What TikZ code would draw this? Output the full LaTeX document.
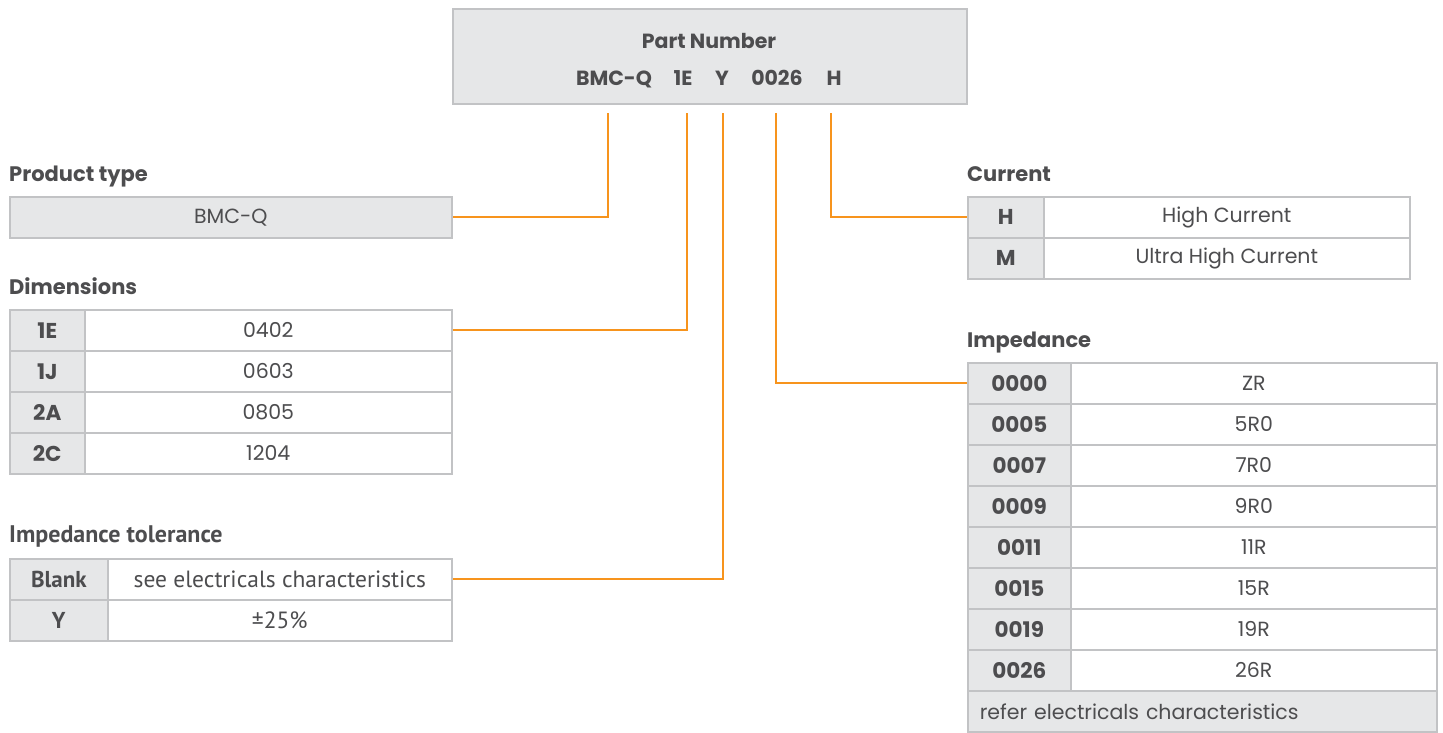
\documentclass[tikz,border=0pt]{standalone}
\usepackage{fontspec}
\setmainfont{Poppins}
\newfontfamily\narrowfont{PT Sans}
\usetikzlibrary{calc}
\definecolor{pgray}{HTML}{E6E7E8}
\definecolor{pborder}{HTML}{C2C3C5}
\definecolor{ptext}{HTML}{4D4D4F}
\definecolor{porange}{HTML}{F7941D}
\begin{document}
\begin{tikzpicture}[x=1pt,y=-1pt,
  base/.style={draw=pborder, line width=1.6pt, inner sep=0pt, anchor=north west,
    text=ptext, font=\fontsize{20.5}{24}\selectfont, minimum height=41pt},
  keycell/.style={base, fill=pgray, font=\fontsize{21.5}{25}\selectfont\bfseries},
  valcell/.style={base, fill=white},
  graycell/.style={base, fill=pgray},
  nkey/.style={keycell, font=\narrowfont\fontsize{23}{26}\selectfont\bfseries},
  nval/.style={valcell, font=\narrowfont\fontsize{23.5}{26}\selectfont},
  head/.style={anchor=base west, inner sep=0pt, text=ptext, font=\fontsize{21}{25}\selectfont\bfseries},
  nhead/.style={head, font=\narrowfont\fontsize{24}{27}\selectfont\bfseries},
  pn/.style={anchor=base, inner sep=0pt, text=ptext, font=\fontsize{20.5}{24}\selectfont\bfseries},
  conn/.style={draw=porange, line width=2pt},
]
\useasboundingbox (0,0) rectangle (1443,732);

% Part number box
\node[draw=pborder, line width=1.6pt, fill=pgray, anchor=north west, inner sep=0pt,
  minimum width=514pt, minimum height=95pt] (pbox) at (452,8) {};
\node[pn] (ptitle) at (709,48) {Part Number};
\node[pn] (pBMC) at (614,85) {BMC-Q};
\node[pn] (p1E) at (683,85) {1E};
\node[pn] (pY) at (722,85) {Y};
\node[pn] (p0026) at (777,85) {0026};
\node[pn] (pH) at (834,85) {H};

\coordinate (c1) at (608,113);
\coordinate (c2) at (687,113);
\coordinate (c3) at (723,113);
\coordinate (c4) at (776,113);
\coordinate (c5) at (831,113);

% Product type
\node[head] (hpt) at (9,181) {Product type};
\node[graycell, minimum width=442pt] (pt) at (9,196) {BMC-Q};

% Dimensions
\node[head] (hdim) at (9,294) {Dimensions};
\node[keycell, minimum width=75pt] (dk1) at (9,309) {1E};
\node[valcell, minimum width=367pt] (dv1) at (84,309) {0402};
\node[keycell, minimum width=75pt] (dk2) at (9,350) {1J};
\node[valcell, minimum width=367pt] (dv2) at (84,350) {0603};
\node[keycell, minimum width=75pt] (dk3) at (9,391) {2A};
\node[valcell, minimum width=367pt] (dv3) at (84,391) {0805};
\node[keycell, minimum width=75pt] (dk4) at (9,432) {2C};
\node[valcell, minimum width=367pt] (dv4) at (84,432) {1204};

% Impedance tolerance
\node[nhead] (htol) at (9,542) {Impedance tolerance};
\node[nkey, minimum width=98pt] (tk1) at (9,558) {Blank};
\node[nval, minimum width=344pt] (tv1) at (107,558) {see electricals characteristics};
\node[nkey, minimum width=98pt] (tk2) at (9,599) {Y};
\node[nval, minimum width=344pt] (tv2) at (107,599) {±25\%};

% Current
\node[head] (hcur) at (967,181) {Current};
\node[keycell, minimum width=76pt] (ck1) at (967,196) {H};
\node[valcell, minimum width=366pt] (cv1) at (1043,196) {High Current};
\node[keycell, minimum width=76pt] (ck2) at (967,237) {M};
\node[valcell, minimum width=366pt] (cv2) at (1043,237) {Ultra High Current};

% Impedance
\node[head] (himp) at (967,347) {Impedance};
\foreach \k/\v [count=\i from 0] in {0000/ZR,0005/5R0,0007/7R0,0009/9R0,0011/11R,0015/15R,0019/19R,0026/26R}{
  \node[keycell, minimum width=103pt] (ik\i) at (967,362+41*\i) {\k};
  \node[valcell, minimum width=366pt] (iv\i) at (1070,362+41*\i) {\v};
}
\node[graycell, minimum width=469pt, text width=445pt, align=left] (iref) at (967,690) {refer electricals characteristics};

% Connectors
\draw[conn] (c1) |- (pt.east);
\draw[conn] (c2) |- (dv1.east);
\draw[conn] (c3) |- (tv1.east);
\draw[conn] (c4) |- (ik0.west);
\draw[conn] (c5) |- (ck1.west);
\end{tikzpicture}
\end{document}
